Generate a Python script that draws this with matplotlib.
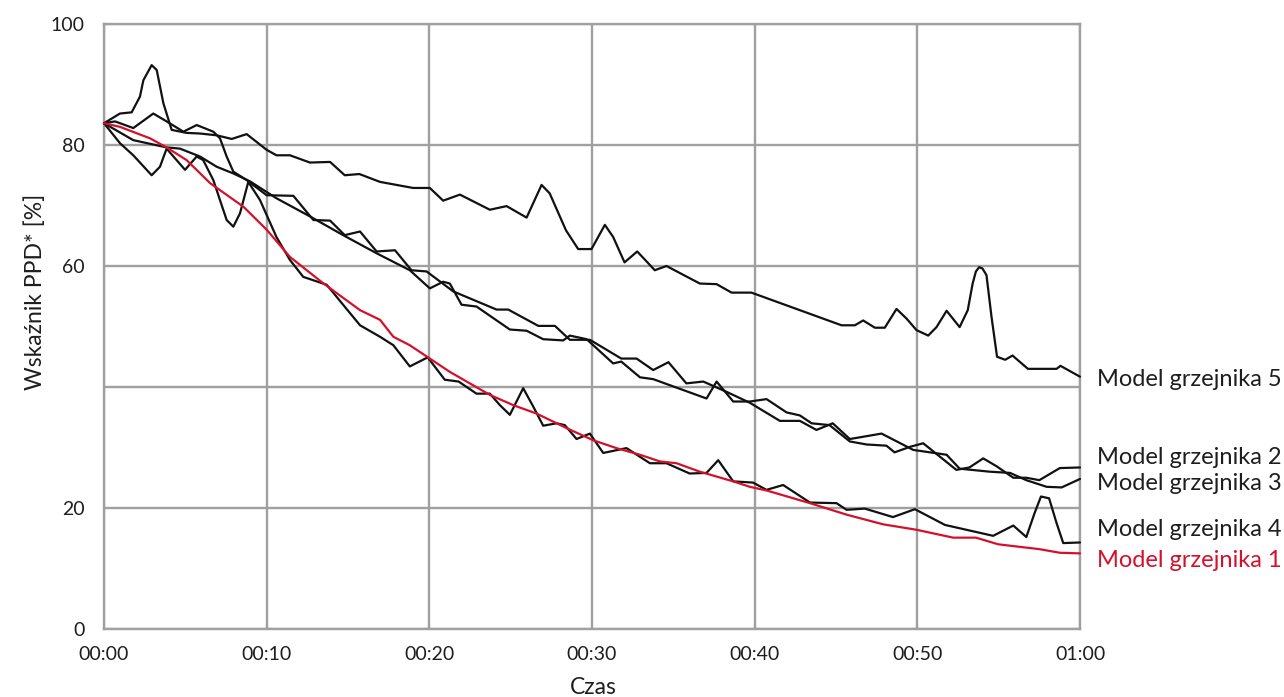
import matplotlib
matplotlib.use("Agg")
import matplotlib.pyplot as plt

plt.rcParams['font.family'] = ['Lato', 'DejaVu Sans']

# time in minutes
t1 = [0, 0.98, 2.83, 3.85, 5.08, 6.52, 8.57, 10.0, 11.43, 13.5, 15.74, 16.97, 17.79, 18.8, 20.03, 21.26, 23.72,
      25.16, 26.6, 28.44, 30.07, 31.5, 32.95, 34.17, 35.2, 36.63, 38.68, 39.7, 40.73, 43.4, 45.65, 47.9, 49.95,
      52.2, 53.6, 54.97, 57.5, 58.76, 60.0]
v1 = [83.6, 83.0, 81.1, 79.6, 77.5, 73.7, 69.8, 66.0, 61.5, 57.1, 52.7, 51.1, 48.3, 46.9, 44.7, 42.5, 38.7,
      37.0, 35.6, 33.2, 31.2, 29.9, 28.8, 27.7, 27.4, 26.0, 24.4, 23.5, 22.9, 20.8, 18.9, 17.3, 16.4,
      15.1, 15.1, 14.0, 13.2, 12.6, 12.5]

t2 = [0, 1.80, 3.85, 4.67, 5.90, 6.93, 7.95, 8.97, 10.6, 12.66, 14.7, 16.76, 18.8, 20.03, 20.85, 21.26, 21.98,
      22.9, 24.95, 25.98, 27.0, 28.23, 28.64, 29.67, 31.3, 31.8, 32.95, 33.76, 37.04, 37.66, 38.68, 39.7, 40.73,
      41.96, 42.78, 43.5, 44.6, 45.85, 46.88, 48.1, 48.6, 49.54, 50.36, 52.4, 53.2, 54.05, 54.87, 55.9, 56.7,
      57.5, 58.76, 60.0]
v2 = [83.6, 80.8, 79.6, 79.4, 78.1, 76.4, 75.3, 74.0, 71.2, 68.2, 65.1, 62.1, 59.3, 56.3, 57.4, 57.1, 53.6,
      53.3, 49.5, 49.3, 47.9, 47.7, 48.5, 47.9, 43.9, 44.2, 41.6, 41.3, 38.1, 40.9, 37.6, 37.6, 38.0,
      35.8, 35.3, 34.0, 33.7, 31.0, 30.5, 30.3, 29.2, 30.1, 30.7, 26.3, 26.7, 28.2, 26.9, 25.0, 25.0,
      24.6, 26.6, 26.7]

t3 = [0, 0.68, 1.80, 3.03, 3.85, 4.88, 5.70, 6.72, 7.13, 7.54, 7.95, 8.77, 10.0, 11.64, 12.87, 13.9, 14.8,
      15.74, 16.76, 17.89, 18.9, 19.83, 21.47, 24.13, 24.85, 26.7, 27.72, 28.64, 29.87, 31.8, 32.74, 33.76,
      34.7, 35.8, 36.84, 38.27, 39.7, 41.55, 42.78, 43.8, 44.8, 45.85, 47.8, 49.75, 51.8, 52.6, 54.46, 55.7,
      56.7, 57.95, 58.87, 60.0]
v3 = [83.6, 83.9, 82.8, 85.2, 83.9, 82.2, 83.3, 82.2, 81.1, 78.1, 75.6, 74.2, 71.7, 71.6, 67.6, 67.5, 65.1,
      65.7, 62.4, 62.6, 59.3, 59.1, 55.8, 52.8, 52.8, 50.1, 50.1, 47.8, 47.8, 44.7, 44.7, 42.8,
      44.1, 40.6, 40.9, 39.2, 37.4, 34.4, 34.4, 32.9, 34.0, 31.4, 32.3, 29.6, 28.8, 26.5, 26.0, 25.8,
      24.6, 23.5, 23.4, 24.8]

t4 = [0, 0.98, 1.80, 2.93, 3.44, 3.85, 4.98, 5.70, 6.1, 6.72, 7.54, 7.95, 8.36, 8.87, 9.59, 10.6, 11.43,
      12.25, 13.69, 15.74, 16.97, 17.79, 18.8, 19.9, 20.95, 21.8, 22.9, 23.72, 24.34, 24.95, 25.77, 26.4,
      27.0, 27.82, 28.33, 29.05, 29.87, 30.69, 32.12, 33.56, 34.58, 36.0, 37.04, 37.76, 38.68, 39.9, 40.73,
      41.75, 43.4, 45.03, 45.65, 46.77, 48.5, 49.85, 51.7, 54.66, 55.9, 56.7, 57.2, 57.6, 58.1, 58.56,
      58.97, 60.0]
v4 = [83.6, 80.3, 78.3, 75.0, 76.4, 79.4, 75.9, 78.1, 77.5, 74.2, 67.6, 66.5, 68.7, 73.9, 70.9, 64.8, 61.0,
      58.2, 56.9, 50.2, 48.3, 46.9, 43.4, 44.9, 41.2, 40.9, 38.9, 38.9, 37.0, 35.4, 39.8, 36.7,
      33.6, 34.0, 33.7, 31.4, 32.3, 29.1, 29.9, 27.4, 27.4, 25.7, 25.8, 27.9, 24.4, 24.2, 23.0,
      23.8, 20.9, 20.8, 19.7, 19.9, 18.5, 19.8, 17.2, 15.4, 17.1, 15.2, 19.1, 21.9, 21.6, 17.5,
      14.2, 14.3]

t5 = [0, 0.98, 1.70, 2.21, 2.42, 2.93, 3.24, 3.65, 4.16, 5.08, 5.90, 6.93, 7.85, 8.77, 10.0, 10.6, 11.43,
      12.66, 13.9, 14.8, 15.7, 16.97, 19.0, 20.03, 20.85, 21.88, 23.72, 24.75, 25.98, 26.9, 27.4, 28.4,
      29.15, 29.97, 30.79, 31.3, 32.0, 32.78, 33.86, 34.58, 36.63, 37.66, 38.58, 39.8, 45.34, 46.16, 46.67,
      47.39, 48.0, 48.72, 49.34, 49.95, 50.67, 51.18, 51.8, 52.6, 53.1, 53.4, 53.6, 53.8, 54.0, 54.25,
      54.56, 54.9, 55.4, 55.85, 56.8, 58.56, 58.8, 60.0]
v5 = [83.6, 85.2, 85.4, 88.0, 90.7, 93.2, 92.4, 86.9, 82.5, 82.0, 81.9, 81.6, 81.0, 81.8, 79.2, 78.3, 78.3,
      77.1, 77.2, 75.0, 75.2, 73.9, 72.9, 72.9, 70.8, 71.8, 69.3, 69.9, 68.0, 73.4, 72.0, 65.9,
      62.8, 62.8, 66.8, 64.8, 60.6, 62.4, 59.3, 60.0, 57.1, 57.0, 55.6, 55.6, 50.2, 50.2, 51.0,
      49.8, 49.8, 52.9, 51.3, 49.4, 48.5, 49.9, 52.6, 49.9, 52.7, 57.1, 59.1, 59.8, 59.6, 58.5,
      51.6, 45.0, 44.5, 45.2, 43.0, 43.0, 43.5, 41.7]

series_labels = ["Model grzejnika 1", "Model grzejnika 2", "Model grzejnika 3",
                 "Model grzejnika 4", "Model grzejnika 5"]
label_y = [11.4, 28.3, 24.1, 16.4, 41.3]

x_ticks = [0, 10, 20, 30, 40, 50, 60]
x_ticklabels = ["00:00", "00:10", "00:20", "00:30", "00:40", "00:50", "01:00"]
y_ticks = [0, 20, 40, 60, 80, 100]
y_ticklabels = ["0", "20", "", "60", "80", "100"]

RED = '#d4112b'
BLACK = '#111111'
GRID = '#a0a0a0'
TXT = '#1e1e1e'

fig = plt.figure(figsize=(12.84, 6.97), dpi=100)
ax = fig.add_axes([104/1284, 1-629/697, (1080-104)/1284, (629-24)/697])

ax.set_xlim(0, 60)
ax.set_ylim(0, 100)
ax.set_xticks(x_ticks)
ax.set_xticklabels(x_ticklabels)
ax.set_yticks(y_ticks)
ax.set_yticklabels(y_ticklabels)
ax.grid(True, color=GRID, linewidth=1.7)
ax.set_axisbelow(True)
for s in ax.spines.values():
    s.set_color(GRID)
    s.set_linewidth(1.7)
ax.tick_params(length=0, labelsize=14, colors=TXT)
ax.tick_params(axis='x', pad=12)
ax.tick_params(axis='y', pad=14)

series = [(t5, v5, BLACK), (t4, v4, BLACK), (t3, v3, BLACK), (t2, v2, BLACK), (t1, v1, RED)]
for tt, vv, c in series:
    ax.plot(tt, vv, color=c, linewidth=1.6, clip_on=False, zorder=3,
            solid_joinstyle='round', solid_capstyle='round')

for lab, ly in zip(series_labels, label_y):
    c = RED if lab.endswith("1") else TXT
    ax.annotate(lab, xy=(60, ly), xytext=(17, 0), textcoords='offset pixels',
                va='center', ha='left', fontsize=17, color=c, annotation_clip=False)

fig.text(593/1284, 1-688/697, "Czas", ha='center', va='center', fontsize=16.5, color=TXT)
fig.text(35/1284, 1-292/697, "Wskaźnik PPD* [%]", ha='center', va='center', rotation=90,
         fontsize=16.5, color=TXT)

fig.savefig("out.png", dpi=100)
